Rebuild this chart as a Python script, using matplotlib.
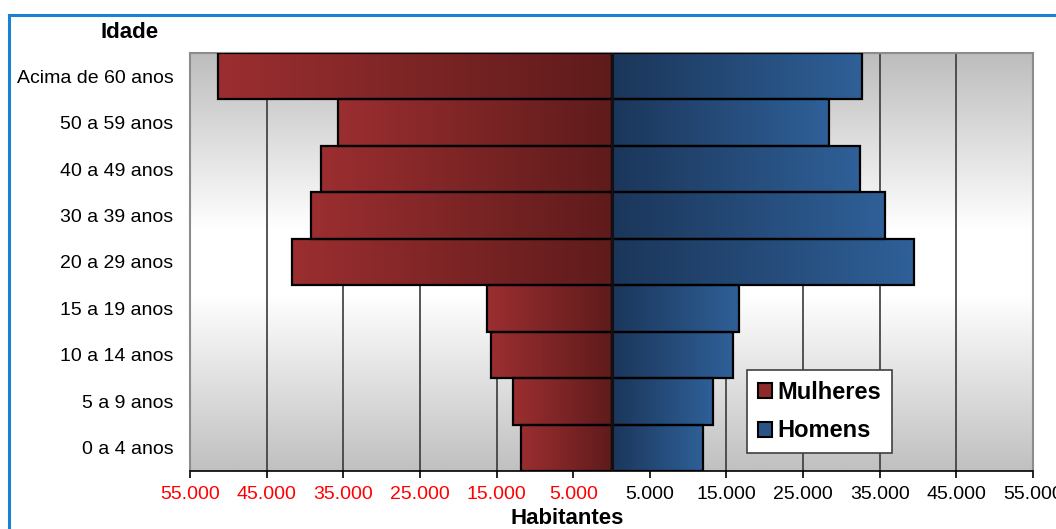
import numpy as np
import matplotlib
matplotlib.use('Agg')
import matplotlib.pyplot as plt
from matplotlib.colors import LinearSegmentedColormap
from matplotlib.patches import Patch
from matplotlib.lines import Line2D

plt.rcParams['font.family'] = ['Liberation Sans', 'DejaVu Sans']

# faixas etarias (de baixo para cima)
idades = ['0 a 4 anos', '5 a 9 anos', '10 a 14 anos', '15 a 19 anos', '20 a 29 anos',
          '30 a 39 anos', '40 a 49 anos', '50 a 59 anos', 'Acima de 60 anos']
mulheres = [11800, 12900, 15700, 16300, 41700, 39200, 37900, 35700, 51400]
homens = [11900, 13200, 15800, 16600, 39500, 35700, 32400, 28400, 32700]
ticks = [-55000, -45000, -35000, -25000, -15000, -5000, 5000, 15000, 25000, 35000, 45000, 55000]
tick_labels = ['55.000', '45.000', '35.000', '25.000', '15.000', '5.000',
               '5.000', '15.000', '25.000', '35.000', '45.000', '55.000']

fig = plt.figure(figsize=(10.56, 5.29), dpi=100)
ax = fig.add_axes([190/1056, 1 - 471/529, 843/1056, 418/529])

xmin, xmax = -55000, 55000
ymin, ymax = -0.5, len(idades) - 0.5

# fundo com degrade vertical
bg = LinearSegmentedColormap.from_list('bg', [(0, '#bdbdbd'), (0.42, '#ffffff'),
                                              (0.58, '#ffffff'), (1, '#c0c0c0')])
ax.imshow(np.linspace(0, 1, 256).reshape(-1, 1), cmap=bg, aspect='auto',
          extent=(0, 1, 0, 1), transform=ax.transAxes, zorder=0)

for t in ticks:
    ax.axvline(t, color='#3a3a3a', lw=1.2, zorder=1)

red = LinearSegmentedColormap.from_list('red', ['#9b2e30', '#5f1b1b'])
blue = LinearSegmentedColormap.from_list('blue', ['#1b365a', '#2f6098'])
grad = np.linspace(0, 1, 256).reshape(1, -1)

y = np.arange(len(idades))
bars_m = ax.barh(y, [-v for v in mulheres], height=1.0, facecolor='none',
                 edgecolor='black', lw=1.6, zorder=4)
bars_h = ax.barh(y, homens, height=1.0, facecolor='none',
                 edgecolor='black', lw=1.6, zorder=4)
for b in bars_m:
    x0, w = b.get_x(), b.get_width()
    ax.imshow(grad, cmap=red, aspect='auto', zorder=3,
              extent=(x0 + w, x0, b.get_y(), b.get_y() + b.get_height()))
for b in bars_h:
    x0, w = b.get_x(), b.get_width()
    ax.imshow(grad, cmap=blue, aspect='auto', zorder=3,
              extent=(x0, x0 + w, b.get_y(), b.get_y() + b.get_height()))

ax.axvline(0, color='#111111', lw=2.2, zorder=5)

ax.set_xlim(xmin, xmax)
ax.set_ylim(ymin, ymax)
ax.set_xticks(ticks)
ax.set_xticklabels(tick_labels, fontsize=14)
for i, lbl in enumerate(ax.get_xticklabels()):
    lbl.set_color('#ff0000' if ticks[i] < 0 else 'black')
ax.set_yticks(y)
ax.set_yticklabels(idades, fontsize=14)
ax.tick_params(axis='y', length=0, pad=12)
ax.tick_params(axis='x', length=5, width=1.2, color='black', pad=6)

for s in ['top', 'left', 'right']:
    ax.spines[s].set_color('#8c8c8c')
    ax.spines[s].set_linewidth(1.5)
ax.spines['bottom'].set_color('black')
ax.spines['bottom'].set_linewidth(1.2)

fig.text(130/1056, 1 - 32/529, 'Idade', fontsize=16, fontweight='bold', ha='center', va='center')
fig.text(567/1056, 1 - 518/529, 'Habitantes', fontsize=16, fontweight='bold', ha='center', va='center')

handles = [Patch(facecolor='#8e2a2a', edgecolor='black', lw=1.5, label='Mulheres'),
           Patch(facecolor='#2a5486', edgecolor='black', lw=1.5, label='Homens')]
leg = ax.legend(handles=handles, loc='lower left', bbox_to_anchor=(557/843, 18/418),
                borderaxespad=0, fancybox=False, framealpha=1, edgecolor='#404040',
                prop={'size': 17, 'weight': 'bold'}, handlelength=0.6, handleheight=0.6,
                handletextpad=0.25, labelspacing=0.65, borderpad=0.45)
leg.get_frame().set_linewidth(1.2)
leg.set_zorder(10)

# moldura azul
fig.add_artist(Line2D([9/1056, 1], [1 - 15/529, 1 - 15/529], color='#1f7fd0', lw=2.2))
fig.add_artist(Line2D([9/1056, 9/1056], [0, 1 - 15/529], color='#1f7fd0', lw=2.2))

fig.savefig('out.png', dpi=100)
